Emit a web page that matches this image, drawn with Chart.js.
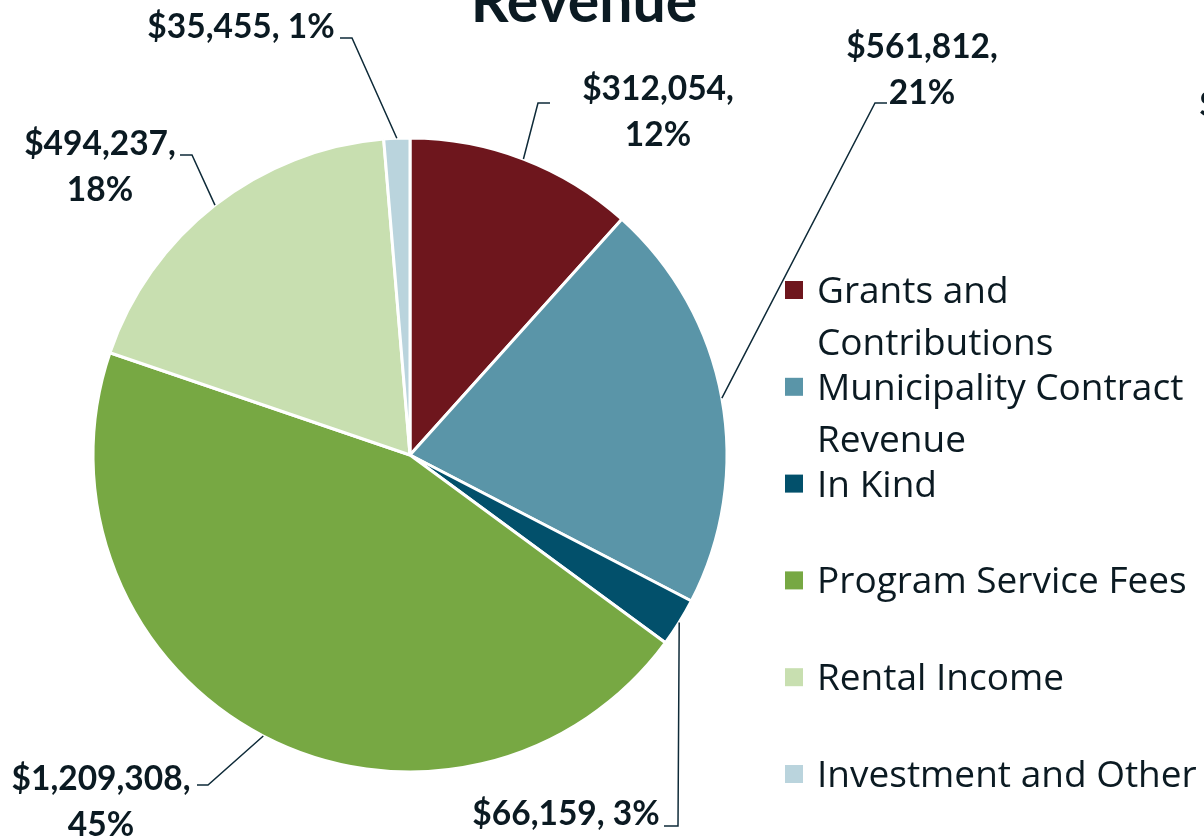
<!DOCTYPE html>
<html>
<head>
<meta charset="utf-8">
<script src="https://cdn.jsdelivr.net/npm/chart.js@4.4.1/dist/chart.umd.min.js"></script>
<style>
    html, body { margin: 0; padding: 0; background: #fff; }
    #wrap { width: 1204px; height: 839px; }
</style>
</head>
<body>
<div id="wrap"><canvas id="revenueChart" width="1204" height="839"></canvas></div>
<script>
// Revenue breakdown
const categories = ['Grants and Contributions', 'Municipality Contract Revenue', 'In Kind',
    'Program Service Fees', 'Rental Income', 'Investment and Other'];
const amounts = [312054, 561812, 66159, 1209308, 494237, 35455];
const percents = [12, 21, 3, 45, 18, 1];
const sliceColors = ['#6E161D', '#5A95A8', '#02506B', '#77A843', '#C8DFB0', '#BAD4DD'];

// legend text wrapped the same way the slide wraps it
const legendLines = [['Grants and', 'Contributions'], ['Municipality Contract', 'Revenue'], ['In Kind'],
    ['Program Service Fees'], ['Rental Income'], ['Investment and Other']];

const TEXT_COLOR = '#0B1A22';
const LEADER_COLOR = '#0E2A38';
const LABEL_FONT = 'Lato, "Open Sans", sans-serif';
const LEGEND_FONT = '"Open Sans", Lato, sans-serif';

// where each callout label sits + the bend of its leader line
const labelLayout = [
    { twoLines: true,  x: 658, y: 100, elbow: [538, 103], end: [550, 103] },
    { twoLines: true,  x: 922, y: 58,  elbow: [875, 103], end: [887, 103] },
    { twoLines: false, x: 566, y: 825, elbow: [678, 826], end: [664, 826] },
    { twoLines: true,  x: 101, y: 790, elbow: [208, 785], end: [197, 785] },
    { twoLines: true,  x: 100, y: 155, elbow: [192, 155], end: [180, 155] },
    { twoLines: false, x: 241, y: 38,  elbow: [352, 38],  end: [340, 38] }
];

const calloutPlugin = {
    id: 'callouts',
    afterDatasetsDraw(chart) {
        const ctx = chart.ctx;
        const arcs = chart.getDatasetMeta(0).data;
        ctx.save();
        arcs.forEach((arc, i) => {
            const p = arc.getProps(['x', 'y', 'startAngle', 'endAngle', 'outerRadius'], true);
            const mid = (p.startAngle + p.endAngle) / 2;
            const sx = p.x + Math.cos(mid) * p.outerRadius;
            const sy = p.y + Math.sin(mid) * p.outerRadius;
            const lay = labelLayout[i];

            ctx.strokeStyle = LEADER_COLOR;
            ctx.lineWidth = 1.5;
            ctx.beginPath();
            ctx.moveTo(sx, sy);
            ctx.lineTo(lay.elbow[0], lay.elbow[1]);
            ctx.lineTo(lay.end[0], lay.end[1]);
            ctx.stroke();

            const money = '$' + amounts[i].toLocaleString('en-US') + ',';
            const pct = percents[i] + '%';
            const lines = lay.twoLines ? [money, pct] : [money + ' ' + pct];
            ctx.fillStyle = TEXT_COLOR;
            ctx.font = 'bold 33.5px ' + LABEL_FONT;
            ctx.textAlign = 'center';
            ctx.textBaseline = 'alphabetic';
            lines.forEach((t, k) => ctx.fillText(t, lay.x, lay.y + k * 46));
        });
        ctx.restore();
    },
    afterDraw(chart) {
        const ctx = chart.ctx;
        ctx.save();
        ctx.fillStyle = TEXT_COLOR;
        ctx.textBaseline = 'alphabetic';

        // title is cut off by the top edge of the slide
        ctx.font = 'bold 59px ' + LABEL_FONT;
        ctx.textAlign = 'center';
        ctx.fillText('Revenue', 584, 22);

        // leftover of a neighbouring chart's label at the right edge
        ctx.font = 'bold 33.5px ' + LABEL_FONT;
        ctx.textAlign = 'left';
        ctx.fillText('$', 1199, 116);

        // legend
        ctx.font = '37px ' + LEGEND_FONT;
        legendLines.forEach((lines, i) => {
            const cy = 290 + i * 96.8;
            ctx.fillStyle = sliceColors[i];
            ctx.fillRect(785, cy - 9, 18, 18);
            ctx.fillStyle = TEXT_COLOR;
            lines.forEach((t, k) => ctx.fillText(t, 817, cy + 13 + k * 52));
        });
        ctx.restore();
    }
};

new Chart(document.getElementById('revenueChart'), {
    type: 'pie',
    data: {
        labels: categories,
        datasets: [{
            data: amounts,
            backgroundColor: sliceColors,
            borderColor: '#ffffff',
            borderWidth: 3
        }]
    },
    options: {
        responsive: false,
        animation: false,
        layout: { padding: { left: 91.5, top: 136.5, right: 475.5, bottom: 65.5 } },
        plugins: {
            legend: { display: false },
            tooltip: { enabled: false },
            title: { display: false }
        }
    },
    plugins: [calloutPlugin]
});
</script>
</body>
</html>
